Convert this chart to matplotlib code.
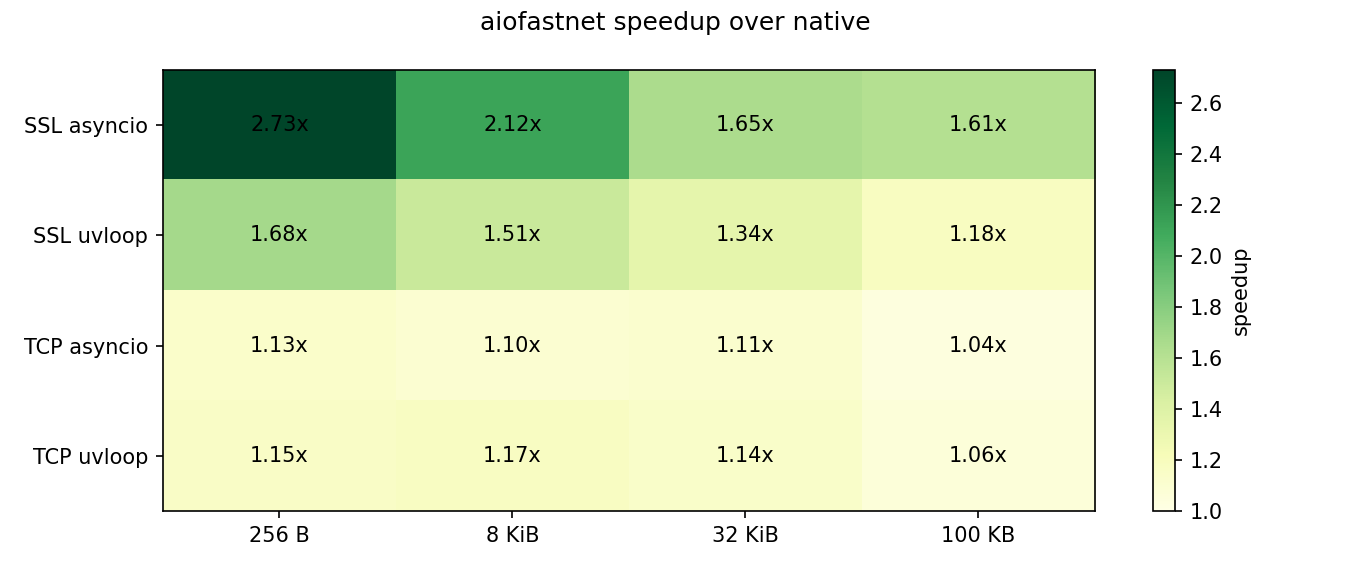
import matplotlib
matplotlib.use("Agg")
import matplotlib.pyplot as plt
import numpy as np

rows = ["SSL asyncio", "SSL uvloop", "TCP asyncio", "TCP uvloop"]
cols = ["256 B", "8 KiB", "32 KiB", "100 KB"]
ssl_asyncio = [2.73, 2.12, 1.65, 1.61]
ssl_uvloop = [1.68, 1.51, 1.34, 1.18]
tcp_asyncio = [1.13, 1.10, 1.11, 1.04]
tcp_uvloop = [1.15, 1.17, 1.14, 1.06]

data = np.array([ssl_asyncio, ssl_uvloop, tcp_asyncio, tcp_uvloop])

fig = plt.figure(figsize=(9, 3.8), dpi=150)
ax = fig.add_axes([0.1207, 0.1035, 0.6904, 0.7737])
cax = fig.add_axes([0.8541, 0.1035, 0.0163, 0.7737])

im = ax.imshow(data, cmap="YlGn", vmin=1.0, vmax=data.max(), aspect="auto")
for i in range(data.shape[0]):
    for j in range(data.shape[1]):
        ax.text(j, i, f"{data[i, j]:.2f}x", ha="center", va="center", color="black")

ax.set_xticks(np.arange(len(cols)))
ax.set_xticklabels(cols)
ax.set_yticks(np.arange(len(rows)))
ax.set_yticklabels(rows)

cb = fig.colorbar(im, cax=cax)
cb.set_label("speedup")

fig.suptitle("aiofastnet speedup over native", y=0.98, fontsize=12)
fig.savefig("out.png", dpi=150)
